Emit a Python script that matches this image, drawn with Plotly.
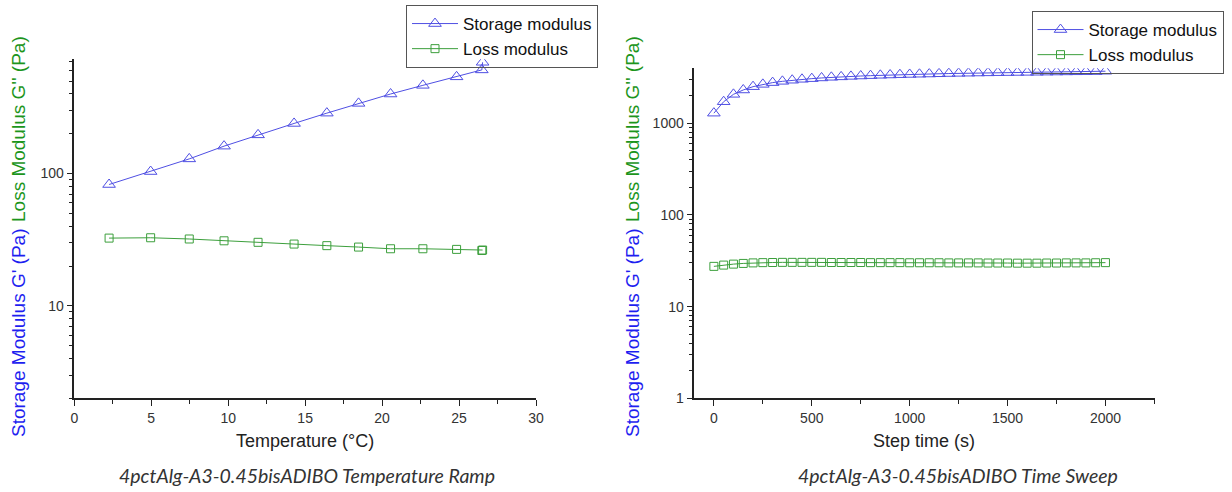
import plotly.graph_objects as go

# ---------------- data ----------------
temperature_c = [2.26, 4.96, 7.47, 9.73, 11.94, 14.28, 16.41, 18.47, 20.55, 22.65, 24.84, 26.48, 26.53]
storage_temp = [82.6, 103.5, 129, 161, 196, 239, 286, 339, 399, 464, 538, 607, 693]
loss_temp = [32.5, 32.7, 32.0, 31.0, 30.2, 29.3, 28.5, 27.8, 27.0, 27.0, 26.7, 26.2, 26.4]

step_time_s = [0, 50, 100, 150, 200, 250, 300, 350, 400, 450,
               500, 550, 600, 650, 700, 750, 800, 850, 900, 950,
               1000, 1050, 1100, 1150, 1200, 1250, 1300, 1350, 1400, 1450,
               1500, 1550, 1600, 1650, 1700, 1750, 1800, 1850, 1900, 1950, 2000]
storage_time = [1290, 1720, 2070, 2310, 2510, 2660, 2780, 2870, 2950, 3020,
                3070, 3125, 3175, 3210, 3250, 3280, 3310, 3340, 3365, 3390,
                3410, 3430, 3450, 3470, 3490, 3505, 3520, 3535, 3550, 3565,
                3575, 3585, 3595, 3605, 3615, 3625, 3635, 3645, 3655, 3665, 3700]
loss_time = [27.5, 28.4, 29.1, 29.6, 30.0, 30.2, 30.3, 30.4, 30.4, 30.4,
             30.4, 30.4, 30.3, 30.3, 30.3, 30.3, 30.2, 30.2, 30.2, 30.2,
             30.1, 30.1, 30.1, 30.1, 30.0, 30.0, 30.0, 30.0, 29.9, 29.9,
             29.9, 29.8, 29.8, 29.8, 29.9, 29.9, 30.0, 30.0, 30.0, 30.1, 30.2]

left_x_ticks = [0, 5, 10, 15, 20, 25, 30]
right_x_ticks = [0, 500, 1000, 1500, 2000]

series_names = ["Storage modulus", "Loss modulus"]
left_caption = "4pctAlg-A3-0.45bisADIBO Temperature Ramp"
right_caption = "4pctAlg-A3-0.45bisADIBO Time Sweep"
left_xtitle = "Temperature (°C)"
right_xtitle = "Step time (s)"
ytitle_storage = "Storage Modulus G' (Pa)"
ytitle_loss = "Loss Modulus G'' (Pa)"

# ---------------- styles ----------------
W, H = 1232, 492
BLUE_LINE = "#4F4FE3"
GREEN_LINE = "#3C9F3C"
BLUE_TXT = "#1E1EF0"
GREEN_TXT = "#1C951C"
FONT = "Liberation Sans, Arial, sans-serif"

def px_x(p):
    return p / W

def px_y(p):
    return 1 - p / H

fig = go.Figure()

# left subplot traces
fig.add_trace(go.Scatter(
    x=temperature_c, y=storage_temp, name=series_names[0], mode="lines+markers",
    line=dict(color=BLUE_LINE, width=1),
    marker=dict(symbol="triangle-up-open", size=11, color=BLUE_LINE, line=dict(width=1)),
    xaxis="x", yaxis="y", legend="legend"))
fig.add_trace(go.Scatter(
    x=temperature_c, y=loss_temp, name=series_names[1], mode="lines+markers",
    line=dict(color=GREEN_LINE, width=1),
    marker=dict(symbol="square-open", size=8, color=GREEN_LINE, line=dict(width=1)),
    xaxis="x", yaxis="y", legend="legend"))

# right subplot traces
fig.add_trace(go.Scatter(
    x=step_time_s, y=storage_time, name=series_names[0], mode="lines+markers",
    line=dict(color=BLUE_LINE, width=1),
    marker=dict(symbol="triangle-up-open", size=11, color=BLUE_LINE, line=dict(width=1)),
    xaxis="x2", yaxis="y2", legend="legend2"))
fig.add_trace(go.Scatter(
    x=step_time_s, y=loss_time, name=series_names[1], mode="lines+markers",
    line=dict(color=GREEN_LINE, width=1),
    marker=dict(symbol="square-open", size=8, color=GREEN_LINE, line=dict(width=1)),
    xaxis="x2", yaxis="y2", legend="legend2"))

axis_common = dict(
    showline=True, linecolor="#222", linewidth=1.5, mirror=False,
    ticks="outside", ticklen=6, tickwidth=1.3, tickcolor="#222",
    showgrid=False, zeroline=False, automargin=False,
    tickfont=dict(family=FONT, size=14, color="#333"),
)

legend_common = dict(
    xanchor="left", yanchor="top",
    bgcolor="rgba(255,255,255,0)", bordercolor="#555", borderwidth=1,
    font=dict(family=FONT, size=17, color="#111"),
    tracegroupgap=0, itemwidth=46,
)

fig.update_layout(
    width=W, height=H,
    margin=dict(l=0, r=0, t=0, b=0),
    paper_bgcolor="white", plot_bgcolor="white",
    font=dict(family=FONT),
    xaxis=dict(domain=[px_x(74.3), px_x(536)], range=[0, 30], tickvals=left_x_ticks,
               anchor="y",
               minor=dict(ticks="outside", ticklen=4, tickwidth=1.1, tickcolor="#222", dtick=2.5),
               **axis_common),
    yaxis=dict(domain=[px_y(398.3), px_y(59.3)], type="log", range=[0.30103, 2.8633],
               dtick=1, anchor="x",
               minor=dict(ticks="outside", ticklen=4, tickwidth=1.1, tickcolor="#222", dtick="D1"),
               **axis_common),
    xaxis2=dict(domain=[px_x(694.3), px_x(1155)], range=[-100, 2253], tickvals=right_x_ticks,
                anchor="y2",
                minor=dict(ticks="outside", ticklen=4, tickwidth=1.1, tickcolor="#222", dtick=250),
                **axis_common),
    yaxis2=dict(domain=[px_y(398.3), px_y(68.3)], type="log", range=[0, 3.6],
                dtick=1, anchor="x2",
                minor=dict(ticks="outside", ticklen=4, tickwidth=1.1, tickcolor="#222", dtick="D1"),
                **axis_common),
    legend=dict(x=px_x(406), y=px_y(5), **legend_common),
    legend2=dict(x=px_x(1031.5), y=px_y(11), **legend_common),
    showlegend=True,
)

annotations = []
# x-axis titles
annotations.append(dict(text=left_xtitle, x=px_x(305), y=px_y(441), xref="paper", yref="paper",
                        xanchor="center", yanchor="middle", showarrow=False,
                        font=dict(family=FONT, size=18, color="#222")))
annotations.append(dict(text=right_xtitle, x=px_x(924), y=px_y(441), xref="paper", yref="paper",
                        xanchor="center", yanchor="middle", showarrow=False,
                        font=dict(family=FONT, size=18, color="#222")))
# captions
annotations.append(dict(text="<i>" + left_caption + "</i>", x=px_x(307), y=px_y(475), xref="paper", yref="paper",
                        xanchor="center", yanchor="middle", showarrow=False,
                        font=dict(family="Lato, Open Sans, sans-serif", size=19.5, color="#333")))
annotations.append(dict(text="<i>" + right_caption + "</i>", x=px_x(958), y=px_y(475), xref="paper", yref="paper",
                        xanchor="center", yanchor="middle", showarrow=False,
                        font=dict(family="Lato, Open Sans, sans-serif", size=19.5, color="#333")))
# y-axis titles (two coloured parts each)
for cx in (18, 632):
    annotations.append(dict(text=ytitle_storage, x=px_x(cx), y=px_y(333), xref="paper", yref="paper",
                            xanchor="center", yanchor="middle", showarrow=False, textangle=-90,
                            font=dict(family=FONT, size=19, color=BLUE_TXT)))
    annotations.append(dict(text=ytitle_loss, x=px_x(cx), y=px_y(129), xref="paper", yref="paper",
                            xanchor="center", yanchor="middle", showarrow=False, textangle=-90,
                            font=dict(family=FONT, size=19, color=GREEN_TXT)))
fig.update_layout(annotations=annotations)

fig.write_html("out.html")
